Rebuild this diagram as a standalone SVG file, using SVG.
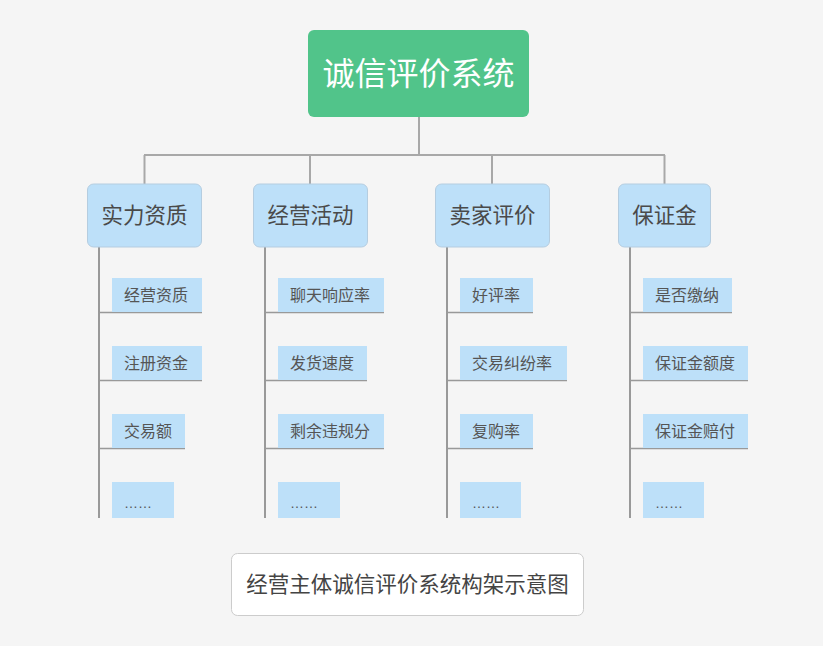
<svg xmlns="http://www.w3.org/2000/svg" width="823" height="646" viewBox="0 0 823 646">
<style>
text{font-family:"Liberation Sans","Noto Sans CJK SC",sans-serif;}
.root rect{fill:#51c48a;}
.root text{fill:#fff;font-size:32px;text-anchor:middle;dominant-baseline:central;}
.l1 rect{fill:#bde0f9;stroke:#b5cde0;stroke-width:1;}
.l1 text{fill:#4a4a4a;font-size:21.5px;text-anchor:middle;dominant-baseline:central;}
.l2 rect{fill:#bde0f9;}
.l2 text{fill:#555;font-size:16px;dominant-baseline:central;}
.l2 text.dots{font-size:14px;}
.conn line{stroke:#a8a8a8;stroke-width:2;}
.conn .spine{stroke:#999;}
.conn .ul{stroke:#999;stroke-width:1.5;}
.cap rect{fill:#fff;stroke:#ccc;stroke-width:1;}
.cap text{fill:#444;font-size:21.5px;text-anchor:middle;dominant-baseline:central;}
</style>
<rect width="823" height="646" fill="#f5f5f5"/>
<g id="connectors" class="conn">
<line x1="419" y1="117" x2="419" y2="155"/>
<line x1="144" y1="155" x2="665" y2="155"/>
<line x1="144.5" y1="155" x2="144.5" y2="184"/>
<line x1="310" y1="155" x2="310" y2="184"/>
<line x1="492" y1="155" x2="492" y2="184"/>
<line x1="664.5" y1="155" x2="664.5" y2="184"/>
<line class="spine" x1="99" y1="247" x2="99" y2="518"/>
<line class="spine" x1="265" y1="247" x2="265" y2="518"/>
<line class="spine" x1="447" y1="247" x2="447" y2="518"/>
<line class="spine" x1="630" y1="247" x2="630" y2="518"/>
<line class="ul" x1="99" y1="312.5" x2="202" y2="312.5"/>
<line class="ul" x1="99" y1="380.5" x2="202" y2="380.5"/>
<line class="ul" x1="99" y1="448.5" x2="185" y2="448.5"/>
<line class="ul" x1="265" y1="312.5" x2="384" y2="312.5"/>
<line class="ul" x1="265" y1="380.5" x2="367" y2="380.5"/>
<line class="ul" x1="265" y1="448.5" x2="384" y2="448.5"/>
<line class="ul" x1="447" y1="312.5" x2="533" y2="312.5"/>
<line class="ul" x1="447" y1="380.5" x2="567" y2="380.5"/>
<line class="ul" x1="447" y1="448.5" x2="533" y2="448.5"/>
<line class="ul" x1="630" y1="312.5" x2="732" y2="312.5"/>
<line class="ul" x1="630" y1="380.5" x2="748" y2="380.5"/>
<line class="ul" x1="630" y1="448.5" x2="748" y2="448.5"/>
</g>
<g id="root" class="root"><rect x="308" y="30" width="221" height="87" rx="6"/><text x="418.5" y="74">诚信评价系统</text></g>
<g id="n1" class="l1"><rect x="87.5" y="184" width="114" height="63" rx="6"/><text x="144.5" y="215.5">实力资质</text></g>
<g id="n2" class="l1"><rect x="253.5" y="184" width="114" height="63" rx="6"/><text x="310.5" y="215.5">经营活动</text></g>
<g id="n3" class="l1"><rect x="435.5" y="184" width="114" height="63" rx="6"/><text x="492.5" y="215.5">卖家评价</text></g>
<g id="n4" class="l1"><rect x="618.5" y="184" width="92" height="63" rx="6"/><text x="664.5" y="215.5">保证金</text></g>
<g id="n1a" class="l2"><rect x="112" y="278" width="90" height="34"/><text x="124" y="295">经营资质</text></g>
<g id="n1b" class="l2"><rect x="112" y="346" width="90" height="34"/><text x="124" y="363">注册资金</text></g>
<g id="n1c" class="l2"><rect x="112" y="414" width="73" height="34"/><text x="124" y="431">交易额</text></g>
<g id="n1d" class="l2"><rect x="112" y="482" width="62" height="36"/><text class="dots" x="124" y="502.5">……</text></g>
<g id="n2a" class="l2"><rect x="278" y="278" width="106" height="34"/><text x="290" y="295">聊天响应率</text></g>
<g id="n2b" class="l2"><rect x="278" y="346" width="89" height="34"/><text x="290" y="363">发货速度</text></g>
<g id="n2c" class="l2"><rect x="278" y="414" width="106" height="34"/><text x="290" y="431">剩余违规分</text></g>
<g id="n2d" class="l2"><rect x="278" y="482" width="62" height="36"/><text class="dots" x="290" y="502.5">……</text></g>
<g id="n3a" class="l2"><rect x="460" y="278" width="73" height="34"/><text x="472" y="295">好评率</text></g>
<g id="n3b" class="l2"><rect x="460" y="346" width="107" height="34"/><text x="472" y="363">交易纠纷率</text></g>
<g id="n3c" class="l2"><rect x="460" y="414" width="73" height="34"/><text x="472" y="431">复购率</text></g>
<g id="n3d" class="l2"><rect x="460" y="482" width="61" height="36"/><text class="dots" x="472" y="502.5">……</text></g>
<g id="n4a" class="l2"><rect x="643" y="278" width="89" height="34"/><text x="655" y="295">是否缴纳</text></g>
<g id="n4b" class="l2"><rect x="643" y="346" width="105" height="34"/><text x="655" y="363">保证金额度</text></g>
<g id="n4c" class="l2"><rect x="643" y="414" width="105" height="34"/><text x="655" y="431">保证金赔付</text></g>
<g id="n4d" class="l2"><rect x="643" y="482" width="61" height="36"/><text class="dots" x="655" y="502.5">……</text></g>
<g id="caption" class="cap"><rect x="231.5" y="553.5" width="352" height="62" rx="6"/><text x="407.5" y="584.5">经营主体诚信评价系统构架示意图</text></g>
</svg>
